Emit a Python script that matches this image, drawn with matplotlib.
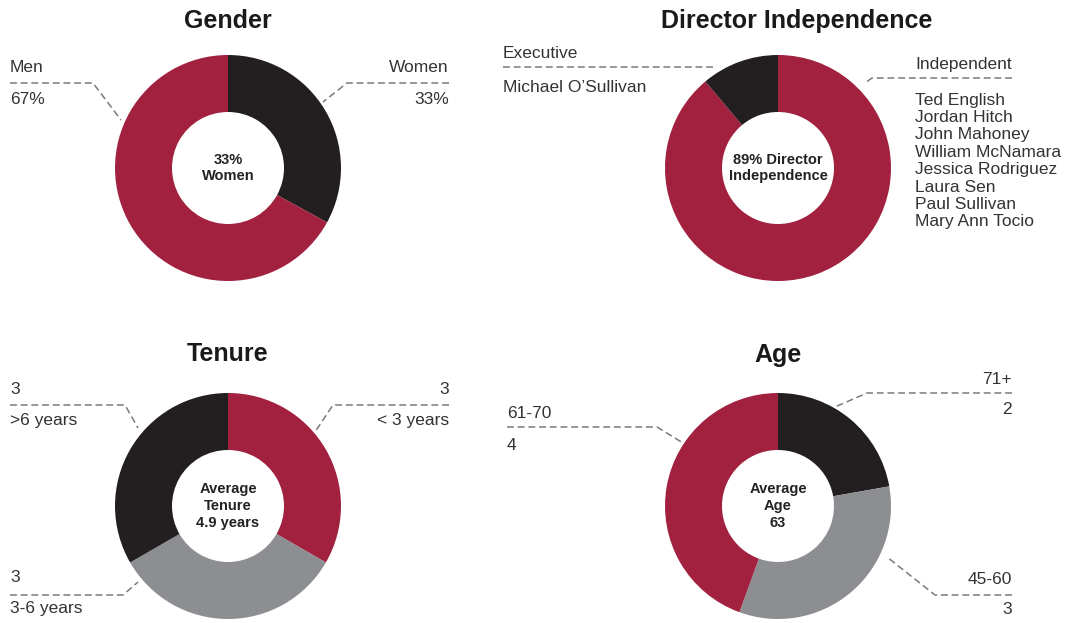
import matplotlib.pyplot as plt

W, H = 1075, 623

# colours
RED = '#A1213F'
BLACK = '#231F20'
GRAY = '#8D8E92'
TXT = '#333333'
LINE = '#7a7a7a'

# data
gender_labels = ['Women', 'Men']
gender_values = [33, 67]

executive_names = ["Michael O\u2019Sullivan"]
independent_names = ['Ted English', 'Jordan Hitch', 'John Mahoney', 'William McNamara',
                     'Jessica Rodriguez', 'Laura Sen', 'Paul Sullivan', 'Mary Ann Tocio']
director_values = [len(independent_names), len(executive_names)]

tenure_labels = ['< 3 years', '3-6 years', '>6 years']
tenure_values = [3, 3, 3]

age_labels = ['71+', '45-60', '61-70']
age_values = [2, 3, 4]

plt.rcParams['font.family'] = ['Liberation Sans', 'DejaVu Sans']

fig = plt.figure(figsize=(W / 100, H / 100), dpi=100)
ax = fig.add_axes([0, 0, 1, 1])


def Y(y):
    # pixel row -> data y (y axis points up)
    return H - y


def donut(values, colors, cx, cy, title, center_text, title_y):
    ax.pie(values, colors=colors, startangle=90, counterclock=False,
           radius=113, center=(cx, Y(cy)), frame=False,
           wedgeprops=dict(width=57, linewidth=0))
    ax.text(cx, Y(title_y), title, ha='center', va='center',
            fontsize=18, fontweight='bold', color='#1a1a1a')
    ax.text(cx, Y(cy), center_text, ha='center', va='center',
            fontsize=10.5, fontweight='bold', color='#222222', linespacing=1.25)


def leader(points):
    xs = [p[0] for p in points]
    ys = [Y(p[1]) for p in points]
    ax.plot(xs, ys, color=LINE, lw=1.1, dashes=(4.5, 2.5), solid_capstyle='butt')


def label(x, y, s, ha='left'):
    ax.text(x, Y(y), s, ha=ha, va='center', fontsize=12.5, color=TXT)


# Gender
donut(gender_values, [BLACK, RED], 228, 168, 'Gender', '33%\nWomen', 21)
label(10, 68, gender_labels[1])
label(10, 100, f'{gender_values[1]}%')
leader([(10, 83), (93, 83), (121, 120)])
label(449, 68, gender_labels[0], ha='right')
label(449, 100, f'{gender_values[0]}%', ha='right')
leader([(449, 83), (347, 83), (323, 102)])

# Director independence
donut(director_values, [RED, BLACK], 778, 168, 'Director Independence',
      '89% Director\nIndependence', 21)
ax.texts[-2].set_x(797)
label(503, 53, 'Executive')
leader([(503, 67), (713, 67)])
label(503, 88, executive_names[0])
label(1012, 65, 'Independent', ha='right')
leader([(1012, 78), (872, 78), (865, 83)])
for i, name in enumerate(independent_names):
    label(915, 100 + 17.4 * i, name)

# Tenure
donut(tenure_values, [RED, GRAY, BLACK], 228, 506, 'Tenure',
      'Average\nTenure\n4.9 years', 354)
label(10, 390, str(tenure_values[2]))
label(10, 420, tenure_labels[2])
leader([(10, 405), (125, 405), (138, 428)])
label(449, 390, str(tenure_values[0]), ha='right')
label(449, 420, tenure_labels[0], ha='right')
leader([(449, 405), (333, 405), (315, 432)])
label(10, 578, str(tenure_values[1]))
label(10, 608, tenure_labels[1])
leader([(10, 595), (123, 595), (138, 582)])

# Age
donut(age_values, [BLACK, GRAY, RED], 778, 506, 'Age', 'Average\nAge\n63', 355)
label(1012, 380, age_labels[0], ha='right')
label(1012, 410, str(age_values[0]), ha='right')
leader([(1012, 393), (867, 393), (835, 407)])
label(507, 413, age_labels[2])
label(507, 445, str(age_values[2]))
leader([(507, 427), (657, 427), (683, 443)])
label(1012, 580, age_labels[1], ha='right')
label(1012, 610, str(age_values[1]), ha='right')
leader([(1012, 595), (935, 595), (887, 557)])

ax.set_xlim(0, W)
ax.set_ylim(0, H)
ax.set_aspect('equal')
ax.axis('off')

fig.savefig('out.png', dpi=100, facecolor='white')
